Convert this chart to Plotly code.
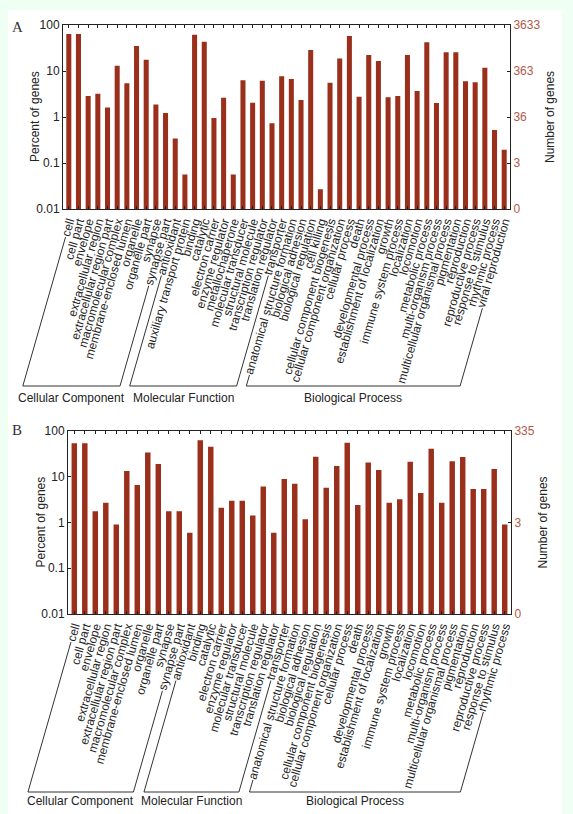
import math
import plotly.graph_objects as go

W, H = 573, 814

# ---------------- data ----------------
cats_A = ["cell", "cell part", "envelope", "extracellular region", "extracellular region part",
          "macromolecular complex", "membrane-enclosed lumen", "organelle", "organelle part",
          "synapse", "synapse part",
          "antioxidant", "auxiliary transport protein", "binding", "catalytic", "electron carrier",
          "enzyme regulator", "metallochaperone", "molecular transducer", "structural molecule",
          "transcription regulator", "translation regulator", "transporter",
          "anatomical structure formation", "biological adhesion", "biological regulation",
          "cell killing", "cellular component biogenesis", "cellular component organization",
          "cellular process", "death", "developmental process", "establishment of localization",
          "growth", "immune system process", "localization", "locomotion", "metabolic process",
          "multi-organism process", "multicellular organismal process", "pigmentation",
          "reproduction", "reproductive process", "response to stimulus", "rhythmic process",
          "viral reproduction"]
pct_A = [63.7, 63.7, 2.86, 3.2, 1.6, 13, 5.4, 35, 17.6, 1.88, 1.22,
         0.34, 0.056, 61.6, 43, 0.95, 2.63, 0.056, 6.3, 2.05, 6.1, 0.73, 7.7,
         6.7, 2.34, 28.6, 0.027, 5.57, 18.8, 57.7, 2.77, 22.3, 16.5, 2.7, 2.86, 22.3,
         3.67, 42, 2.01, 25.5, 25.5, 5.96, 5.7, 11.8, 0.52, 0.195]
groups_A = [("Cellular Component", 11), ("Molecular Function", 12), ("Biological Process", 23)]
right_vals_A = [0.01, 0.1, 1, 10, 100]
right_text_A = ["0", "3", "36", "363", "3633"]

cats_B = ["cell", "cell part", "envelope", "extracellular region", "extracellular region part",
          "macromolecular complex", "membrane-enclosed lumen", "organelle", "organelle part",
          "synapse", "synapse part",
          "antioxidant", "binding", "catalytic", "electron carrier", "enzyme regulator",
          "molecular transducer", "structural molecule", "transcription regulator",
          "translation regulator", "transporter",
          "anatomical structure formation", "biological adhesion", "biological regulation",
          "cellular component biogenesis", "cellular component organization", "cellular process",
          "death", "developmental process", "establishment of localization", "growth",
          "immune system process", "localization", "locomotion", "metabolic process",
          "multi-organism process", "multicellular organismal process", "pigmentation",
          "reproduction", "reproductive process", "response to stimulus", "rhythmic process"]
pct_B = [53.7, 53.7, 1.77, 2.7, 0.9, 13.3, 6.6, 34, 18.9, 1.77, 1.77,
         0.6, 62.5, 45.4, 2.1, 2.98, 2.98, 1.42, 6.1, 0.6, 8.9,
         7.0, 1.18, 27.4, 5.74, 17.1, 55.6, 2.4, 20.6, 14, 2.7, 3.24, 21.3, 4.39, 41,
         2.7, 21.7, 27, 5.37, 5.37, 14.7, 0.9]
groups_B = [("Cellular Component", 11), ("Molecular Function", 10), ("Biological Process", 21)]
right_vals_B = [0.01, 1, 100]
right_text_B = ["0", "3", "335"]

left_vals = [0.01, 0.1, 1, 10, 100]
left_text = ["0.01", "0.1", "1", "10", "100"]

# ---------------- style ----------------
BAR = "#9a2f1c"
RIGHT_COL = "#b35a48"
FONT = "Liberation Sans, Arial, sans-serif"
ANGLE = 74

# Arial widths per 1000 em
WID = {c: 556 for c in "abdeghnopqu"}
WID.update({"c": 500, "f": 278, "i": 222, "j": 222, "k": 500, "l": 222, "m": 833, "r": 333,
            "s": 500, "t": 278, "v": 500, "w": 722, "x": 500, "y": 500, "z": 500, " ": 278, "-": 333})


def text_len(s, size=12):
    return sum(WID.get(ch, 556) for ch in s) * size / 1000.0


def fx(px):
    return px / W


def fy(px):
    return 1 - px / H


panels = [
    dict(cats=cats_A, pct=pct_A, groups=groups_A, rv=right_vals_A, rt=right_text_A,
         x0=63, x1=510, ytop=25, ybot=209, br=386, glab=398, letter="A", ly=27,
         lt_x=35, rt_x=550),
    dict(cats=cats_B, pct=pct_B, groups=groups_B, rv=right_vals_B, rt=right_text_B,
         x0=68, x1=511, ytop=431, ybot=614, br=792, glab=801, letter="B", ly=430,
         lt_x=40, rt_x=542),
]

fig = go.Figure()
shapes = [dict(type="rect", xref="paper", yref="paper", x0=fx(8), x1=fx(562), y0=0, y1=fy(10),
               fillcolor="white", line=dict(width=0), layer="below")]
annotations = []

cos_t = math.cos(math.radians(ANGLE))
sin_t = math.sin(math.radians(ANGLE))
TXT = dict(family=FONT, size=12, color="#222")

for k, p in enumerate(panels):
    n = len(p["cats"])
    xa = "x" if k == 0 else "x2"
    ya = "y" if k == 0 else "y2"
    yr = "y3" if k == 0 else "y4"
    fig.add_trace(go.Bar(x=list(range(n)), y=p["pct"], marker=dict(color=BAR, line=dict(width=0)),
                         xaxis=xa, yaxis=ya, showlegend=False, width=0.52))
    # invisible trace to carry the right axis
    fig.add_trace(go.Scatter(x=[0, n - 1], y=[0.01, 100], mode="markers",
                             marker=dict(opacity=0), xaxis=xa, yaxis=yr,
                             showlegend=False, hoverinfo="skip"))
    xdom = [fx(p["x0"]), fx(p["x1"])]
    ydom = [fy(p["ybot"]), fy(p["ytop"])]
    axline = dict(showline=True, linecolor="#222", linewidth=1, automargin=False)
    xkey = "xaxis" if k == 0 else "xaxis2"
    ykey = "yaxis" if k == 0 else "yaxis2"
    rkey = "yaxis3" if k == 0 else "yaxis4"
    fig.layout[xkey] = dict(domain=xdom, anchor=ya, range=[-0.6, n - 0.4],
                            tickmode="array", tickvals=list(range(n)), ticktext=p["cats"],
                            tickangle=-ANGLE, tickfont=TXT,
                            ticks="inside", ticklen=3, tickcolor="#222", mirror="ticks",
                            showgrid=False, zeroline=False, fixedrange=True, **axline)
    fig.layout[ykey] = dict(domain=ydom, anchor=xa, type="log", range=[-2, 2],
                            tickmode="array", tickvals=left_vals, ticktext=left_text,
                            tickfont=TXT, ticks="inside", ticklen=3, tickcolor="#222",
                            showgrid=False, zeroline=False, **axline)
    fig.layout[rkey] = dict(domain=ydom, anchor=xa, overlaying=ya, side="right", type="log",
                            range=[-2, 2], tickmode="array", tickvals=p["rv"], ticktext=p["rt"],
                            tickfont=dict(family=FONT, size=12, color=RIGHT_COL),
                            ticks="inside", ticklen=3, tickcolor="#222",
                            showgrid=False, zeroline=False, **axline)

    # axis titles
    ymid = fy((p["ytop"] + p["ybot"]) / 2)
    annotations.append(dict(xref="paper", yref="paper", x=fx(p["lt_x"]), y=ymid,
                            text="Percent of genes", textangle=-90, showarrow=False,
                            xanchor="center", yanchor="middle", font=TXT))
    annotations.append(dict(xref="paper", yref="paper", x=fx(p["rt_x"]), y=ymid,
                            text="Number of genes", textangle=-90, showarrow=False,
                            xanchor="center", yanchor="middle", font=TXT))

    # group brackets along the label directions
    ppu = (p["x1"] - p["x0"]) / n
    ya_px = p["ybot"] + 6
    start = 0
    for name, cnt in p["groups"]:
        ends = []
        for idx in (start, start + cnt - 1):
            xa_px = p["x0"] + (idx + 0.5) * ppu + 4
            t_top = text_len(p["cats"][idx]) + 5
            t_bot = (p["br"] - ya_px) / sin_t
            xt, ytp = xa_px - t_top * cos_t, ya_px + t_top * sin_t
            xb = xa_px - t_bot * cos_t
            ends.append(xb)
            shapes.append(dict(type="line", xref="paper", yref="paper",
                               x0=fx(xt), y0=fy(ytp), x1=fx(xb), y1=fy(p["br"]),
                               line=dict(color="#333", width=1)))
        shapes.append(dict(type="line", xref="paper", yref="paper",
                           x0=fx(ends[0]), y0=fy(p["br"]), x1=fx(ends[1]), y1=fy(p["br"]),
                           line=dict(color="#333", width=1)))
        annotations.append(dict(xref="paper", yref="paper", x=fx((ends[0] + ends[1]) / 2),
                                y=fy(p["glab"]), text=name, showarrow=False, font=TXT,
                                xanchor="center", yanchor="middle"))
        start += cnt

    annotations.append(dict(xref="paper", yref="paper", x=fx(17), y=fy(p["ly"]), text=p["letter"],
                            showarrow=False, xanchor="center", yanchor="middle",
                            font=dict(family="Liberation Serif, Times New Roman, serif", size=15,
                                      color="#333")))

fig.update_layout(width=W, height=H, margin=dict(l=0, r=0, t=0, b=0, autoexpand=False),
                  paper_bgcolor="#effff4", plot_bgcolor="white", bargap=0.48,
                  shapes=shapes, annotations=annotations, showlegend=False)

fig.write_html("out.html", config={"displayModeBar": False},
               post_script="document.body.style.margin='0';")
